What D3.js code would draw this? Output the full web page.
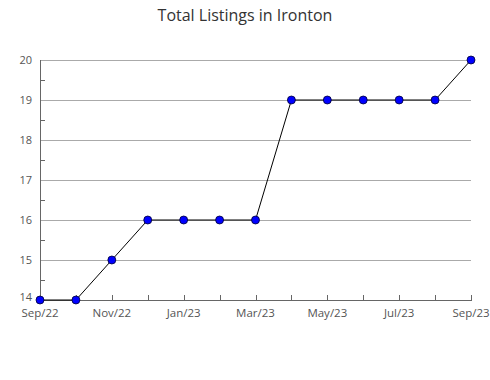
<!DOCTYPE html>
<html>
<head>
<meta charset="utf-8">
<script src="https://cdn.jsdelivr.net/npm/d3@7"></script>
<style>
  body { margin: 0; background: #fff; }
  svg { display: block; font-family: "Open Sans", sans-serif; }
</style>
</head>
<body>
<svg id="chart" width="490" height="380"></svg>
<script>
const title = "Total Listings in Ironton";
const months = ["Sep/22","Oct/22","Nov/22","Dec/22","Jan/23","Feb/23","Mar/23","Apr/23","May/23","Jun/23","Jul/23","Aug/23","Sep/23"];
const listings = [14,14,15,16,16,16,16,19,19,19,19,19,20];
const yTicks = [14,15,16,17,18,19,20];
const xLabels = ["Sep/22","Nov/22","Jan/23","Mar/23","May/23","Jul/23","Sep/23"];

const svg = d3.select("#chart");
const m = {left: 40, right: 471, top: 60, bottom: 300};

const x = d3.scalePoint().domain(months).range([m.left, m.right]);
const y = d3.scaleLinear().domain([14, 20]).range([m.bottom, m.top]);

svg.append("text")
  .attr("x", 245).attr("y", 21)
  .attr("text-anchor", "middle")
  .attr("font-size", 16)
  .attr("fill", "#333")
  .text(title);

// gridlines
svg.append("g").selectAll("line").data(yTicks.filter(d => d > 14)).join("line")
  .attr("x1", m.left).attr("x2", m.right)
  .attr("y1", d => y(d) + 0.5).attr("y2", d => y(d) + 0.5)
  .attr("stroke", "#aaa").attr("stroke-width", 1);

// y minor ticks
const halfTicks = yTicks.slice(0, -1).map(d => d + 0.5);
svg.append("g").selectAll("line").data(halfTicks).join("line")
  .attr("x1", m.left).attr("x2", m.left + 5)
  .attr("y1", d => Math.round(y(d)) + 0.5).attr("y2", d => Math.round(y(d)) + 0.5)
  .attr("stroke", "#666");

// x ticks
svg.append("g").selectAll("line").data(months).join("line")
  .attr("x1", d => Math.round(x(d)) + 0.5).attr("x2", d => Math.round(x(d)) + 0.5)
  .attr("y1", m.bottom - 5).attr("y2", m.bottom)
  .attr("stroke", "#666");

// axes lines
svg.append("line")
  .attr("x1", m.left + 0.5).attr("x2", m.left + 0.5)
  .attr("y1", m.top).attr("y2", m.bottom + 0.5)
  .attr("stroke", "#666");
svg.append("line")
  .attr("x1", m.left).attr("x2", m.right + 1)
  .attr("y1", m.bottom + 0.5).attr("y2", m.bottom + 0.5)
  .attr("stroke", "#666");

// y labels
svg.append("g").selectAll("text").data(yTicks).join("text")
  .attr("x", 32)
  .attr("y", d => y(d) - (d === 14 ? 2.5 : 0))
  .attr("dy", "0.35em")
  .attr("text-anchor", "end")
  .attr("font-size", 11)
  .attr("fill", "#555")
  .text(d => d);

// x labels
svg.append("g").selectAll("text").data(xLabels).join("text")
  .attr("x", d => x(d))
  .attr("y", 316.5)
  .attr("text-anchor", "middle")
  .attr("font-size", 11.5)
  .attr("fill", "#555")
  .text(d => d);

// line
const line = d3.line().x((d, i) => x(months[i])).y(d => y(d));
svg.append("path")
  .datum(listings)
  .attr("d", line)
  .attr("fill", "none")
  .attr("stroke", "#000")
  .attr("stroke-width", 1);

// markers
svg.append("g").selectAll("path").data(listings).join("path")
  .attr("transform", (d, i) => `translate(${x(months[i])},${y(d)})`)
  .attr("d", d3.symbol().type(d3.symbolCircle).size(50))
  .attr("fill", "#0000ff")
  .attr("stroke", "#000033")
  .attr("stroke-width", 0.8);
</script>
</body>
</html>
